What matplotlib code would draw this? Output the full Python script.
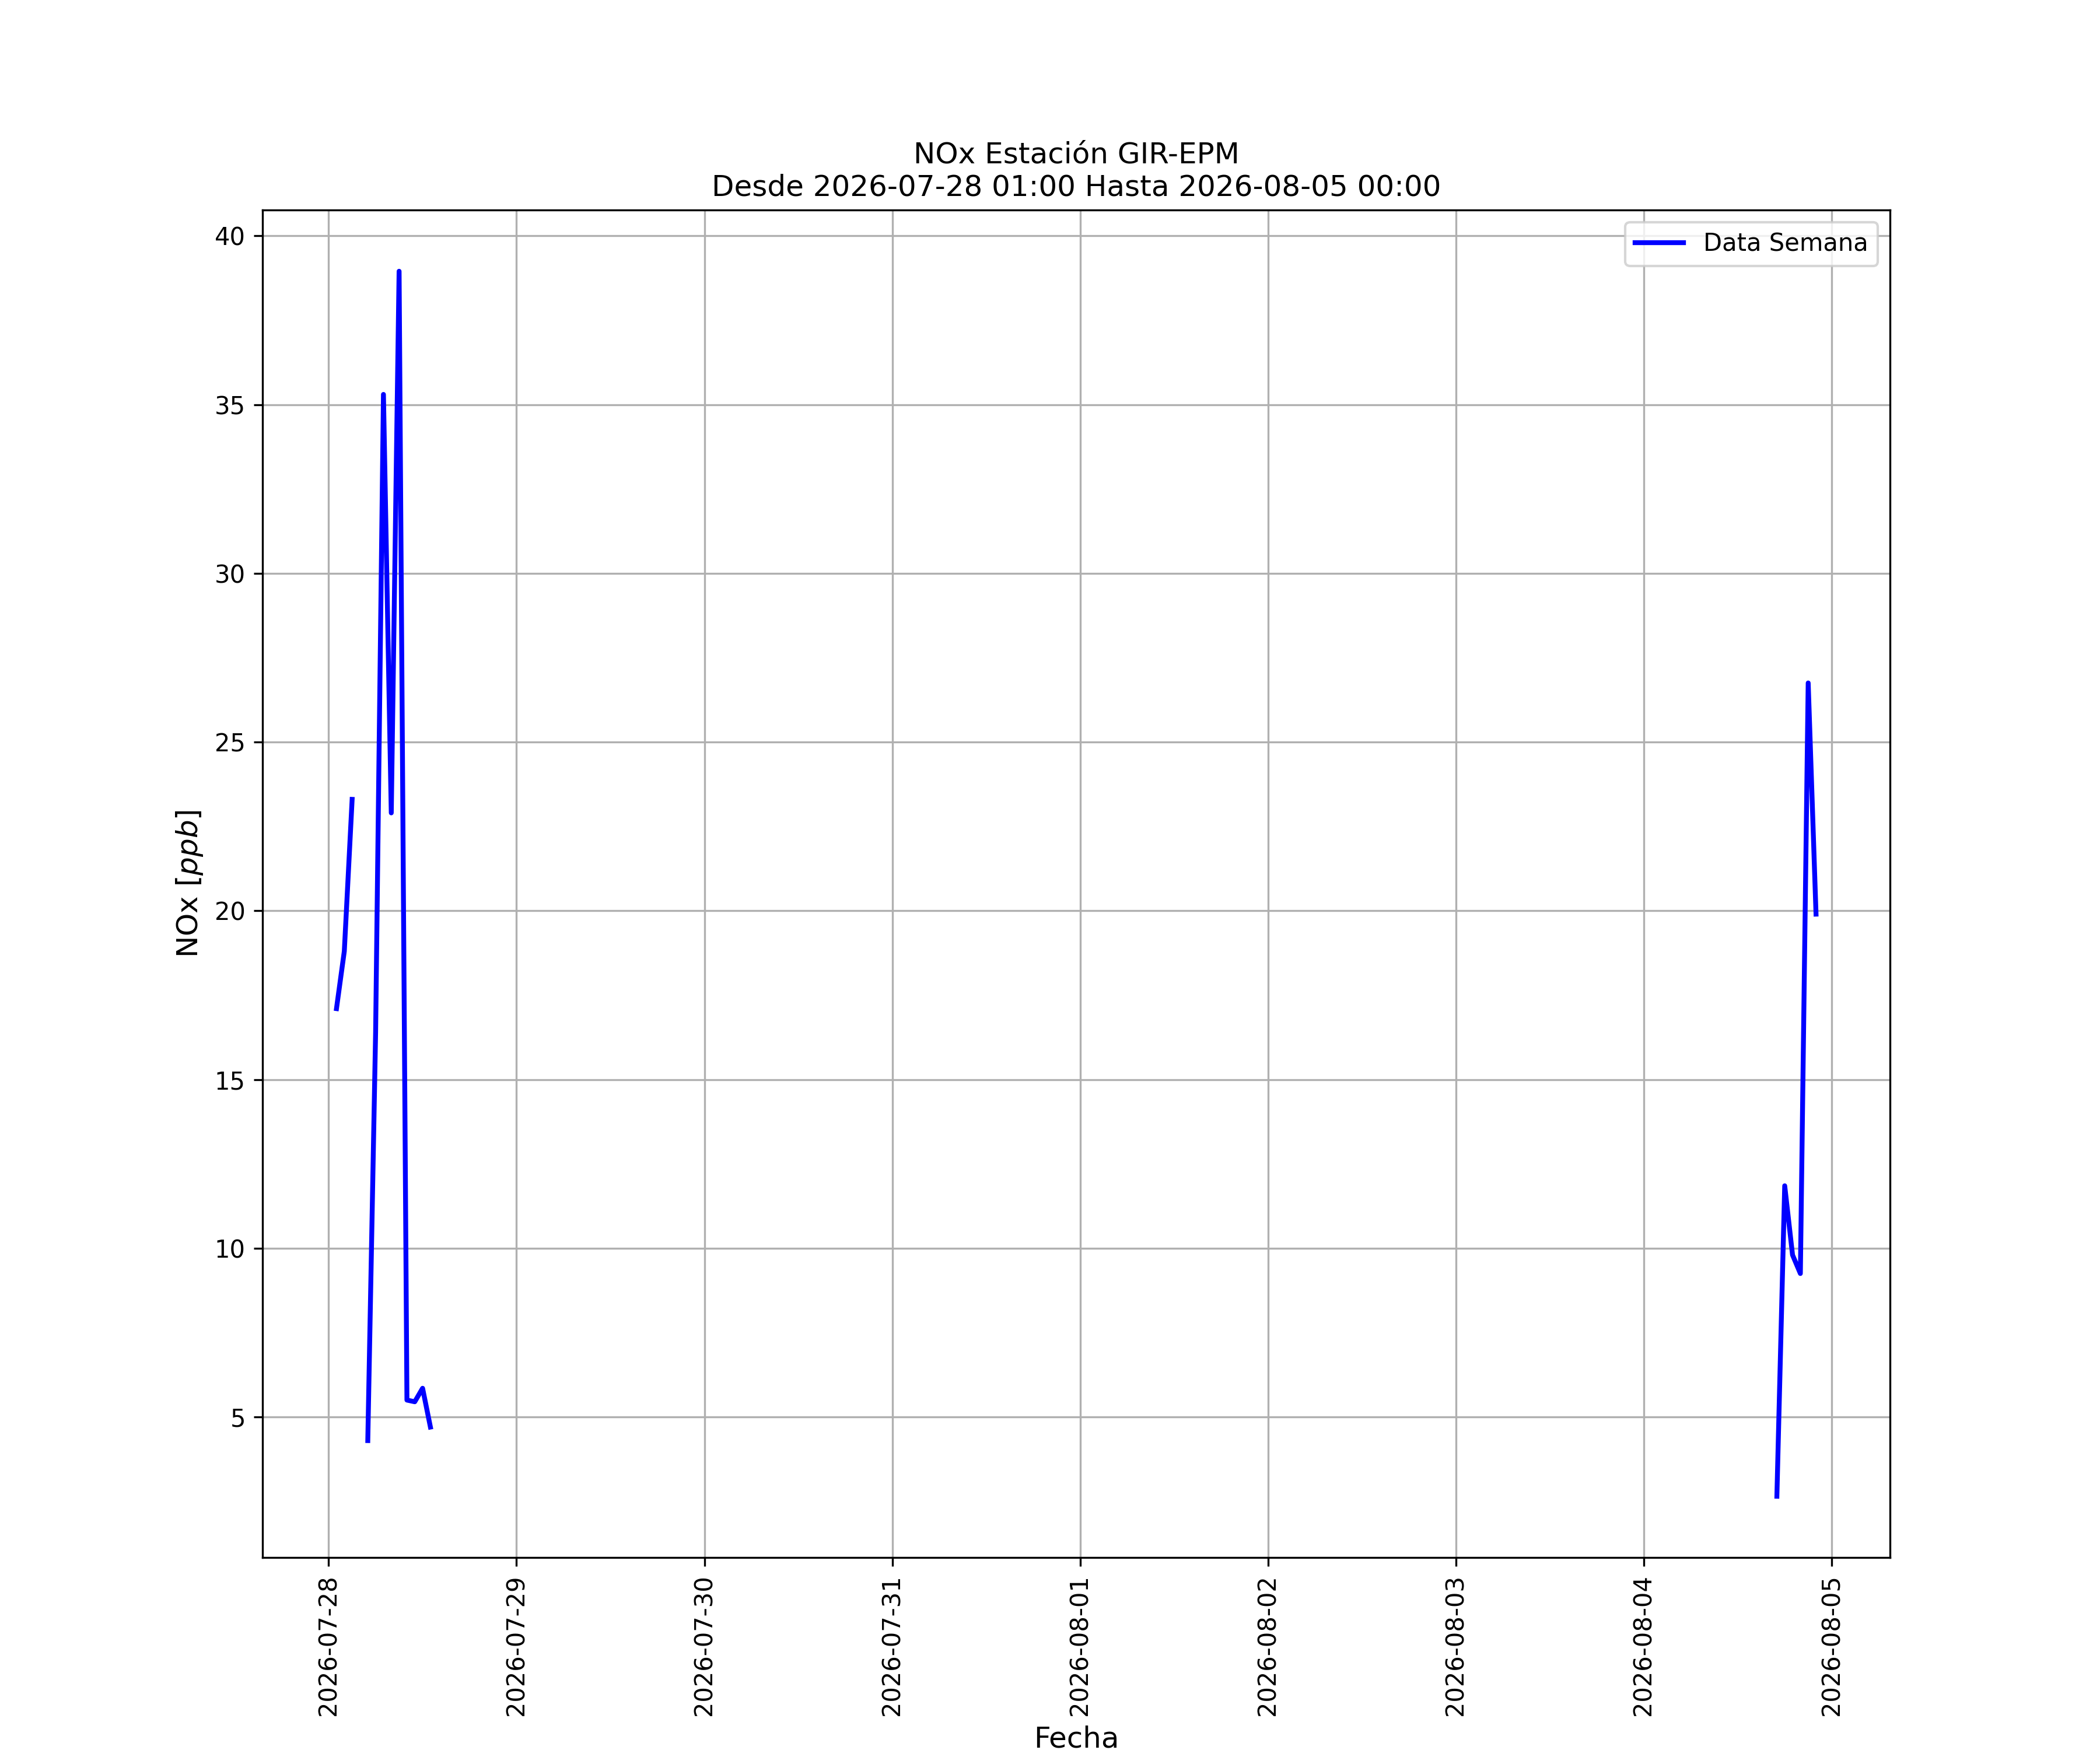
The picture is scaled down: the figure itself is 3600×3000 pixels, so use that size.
import pandas as pd
import numpy as np
import matplotlib
matplotlib.use("Agg")
import matplotlib.pyplot as plt

estacion = "GIR-EPM"
inicio = "2026-07-28 01:00"
fin = "2026-08-05 00:00"

# hourly readings that exist; every other hour in the week is missing
horas = ["2026-07-28 01:00", "2026-07-28 02:00", "2026-07-28 03:00",
         "2026-07-28 05:00", "2026-07-28 06:00", "2026-07-28 07:00",
         "2026-07-28 08:00", "2026-07-28 09:00", "2026-07-28 10:00",
         "2026-07-28 11:00", "2026-07-28 12:00", "2026-07-28 13:00",
         "2026-08-04 17:00", "2026-08-04 18:00", "2026-08-04 19:00",
         "2026-08-04 20:00", "2026-08-04 21:00", "2026-08-04 22:00"]
nox = [17.1, 18.8, 23.3,
       4.3, 16.4, 35.3,
       22.9, 38.95, 5.5,
       5.45, 5.85, 4.7,
       2.65, 11.85, 9.8,
       9.25, 26.75, 19.9]

serie = pd.Series(nox, index=pd.to_datetime(horas))
idx = pd.date_range(inicio, fin, freq="h")
serie = serie.reindex(idx)

fig, ax = plt.subplots(figsize=(12, 10), dpi=300)
ax.plot(serie.index, serie.values, color="blue", linewidth=2, label="Data Semana")

ax.set_title(f"NOx Estación {estacion}\nDesde {inicio} Hasta {fin}")
ax.set_xlabel("Fecha", fontsize=12)
ax.set_ylabel("NOx $[ppb]$", fontsize=12)
ax.grid(True)
ax.legend(loc="upper right")
plt.setp(ax.get_xticklabels(), rotation=90)

plt.savefig("out.png", dpi=300)
